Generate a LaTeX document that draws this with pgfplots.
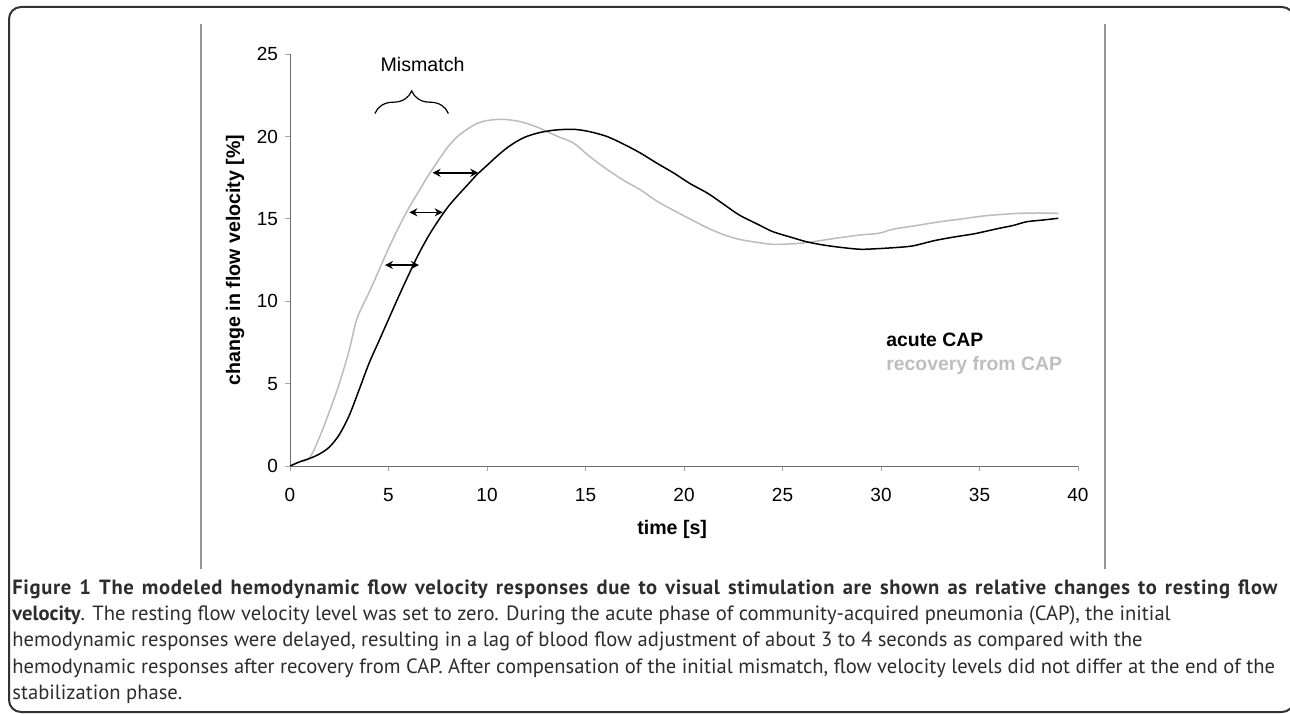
\documentclass[border=0pt]{standalone}
\usepackage{fontspec}
\setmainfont{Liberation Sans}
\newfontfamily\capfont{PT Sans}
\usepackage{pgfplots}
\pgfplotsset{compat=1.18}
\usetikzlibrary{arrows.meta,decorations.pathreplacing}
\definecolor{lightcurve}{RGB}{188,188,188}
\definecolor{legendgray}{RGB}{190,190,190}
\definecolor{axisgray}{RGB}{110,110,110}
\definecolor{framegray}{RGB}{150,150,150}
\definecolor{captext}{RGB}{45,45,45}

\pgfplotstableread{
x y
0 0
0.5 0.25
1.0 0.5
1.5 1.75
2.0 3.3
2.5 5.0
3.0 7.0
3.4 8.95
4.0 10.5
4.5 11.85
5.0 13.2
5.5 14.45
6.0 15.6
6.5 16.6
7.0 17.6
7.5 18.5
8.0 19.35
8.5 20.0
9.0 20.45
9.5 20.8
10.0 20.97
10.75 21.05
11.5 20.95
12.0 20.8
12.7 20.5
13.5 20.05
14.4 19.6
15.2 18.8
16.1 18.0
17.0 17.3
17.8 16.76
18.6 16.1
19.5 15.5
20.3 15.0
21.2 14.45
22.0 14.05
22.8 13.76
23.7 13.58
24.5 13.46
25.4 13.48
26.2 13.56
27.0 13.7
27.9 13.86
29.0 14.03
29.9 14.13
30.6 14.37
31.8 14.6
33.0 14.83
34.1 15.0
35.2 15.18
36.1 15.27
37.0 15.34
38.0 15.36
39.0 15.34
}\recovery

\pgfplotstableread{
x y
0 0
0.5 0.26
1.0 0.46
1.5 0.73
2.0 1.15
2.5 1.9
3.0 3.05
3.5 4.6
4.0 6.2
4.5 7.55
5.0 8.9
5.5 10.25
6.0 11.55
6.5 12.8
7.0 13.9
7.5 14.85
8.0 15.7
8.5 16.4
9.0 17.05
9.5 17.7
10.0 18.25
10.5 18.8
11.0 19.3
11.5 19.7
12.0 20.0
12.7 20.25
13.5 20.4
14.4 20.44
15.2 20.3
16.1 20.0
17.0 19.5
17.8 18.99
18.6 18.4
19.5 17.77
20.3 17.15
21.2 16.56
22.0 15.9
22.8 15.24
23.7 14.7
24.5 14.23
25.4 13.9
26.2 13.62
27.0 13.43
27.9 13.28
28.9 13.16
29.6 13.18
30.6 13.25
31.6 13.36
32.7 13.68
33.7 13.9
34.7 14.09
35.4 14.27
36.0 14.43
36.7 14.6
37.4 14.83
38.2 14.93
39.0 15.04
}\acute

\begin{document}
\begin{tikzpicture}
\useasboundingbox (0,0) rectangle (645pt,356.5pt);
\begin{scope}[x=0.5pt,y=-0.5pt,shift={(0,356.5pt)}]
  \draw[black!80, line width=1pt, rounded corners=6pt] (1294,712) -- (1294,7) -- (9,7) -- (9,712) -- cycle;
  \draw[framegray, line width=0.75pt] (201,24) -- (201,569);
  \draw[framegray, line width=0.75pt] (1105,24) -- (1105,569);
  \begin{scope}[every node/.style={anchor=base west, inner sep=0pt, text=captext, font=\capfont\fontsize{10.3pt}{12pt}\selectfont}]
    \node at (12,594.5) {\makebox[632.5pt][s]{\bfseries\addfontfeature{LetterSpace=3}Figure 1 The modeled hemodynamic flow velocity responses due to visual stimulation are shown as relative changes to resting flow}};
    \node at (12,620.7) {\textbf{velocity}. The resting flow velocity level was set to zero. During the acute phase of community-acquired pneumonia (CAP), the initial};
    \node at (12,646.9) {hemodynamic responses were delayed, resulting in a lag of blood flow adjustment of about 3 to 4 seconds as compared with the};
    \node at (12,673.1) {hemodynamic responses after recovery from CAP. After compensation of the initial mismatch, flow velocity levels did not differ at the end of the};
    \node at (12,699.3) {stabilization phase.};
  \end{scope}
\end{scope}
\begin{axis}[
  at={(145pt,123.5pt)}, anchor=south west,
  scale only axis, width=394pt, height=205.9pt,
  xmin=0, xmax=40, ymin=0, ymax=25,
  axis lines*=left,
  axis line style={axisgray, line width=0.5pt, -},
  xtick={0,5,...,40}, ytick={0,5,...,25},
  tick align=outside, major tick length=2.5pt,
  tick style={black!35, line width=0.5pt},
  /pgf/number format/assume math mode=true,
  ticklabel style={font=\fontsize{9.5pt}{11pt}\selectfont},
  xticklabel style={yshift=-5pt},
  xlabel={time [s]}, ylabel={change in flow velocity [\%]},
  label style={font=\bfseries\fontsize{9.8pt}{11pt}\selectfont},
  xlabel style={at={(axis description cs:0.485,-0.153)}, anchor=center},
  ylabel style={at={(axis description cs:-0.0698,0.5)}, anchor=center},
  clip=false,
]
\addplot[lightcurve, line width=0.75pt, smooth, no markers] table[x=x,y=y] {\recovery};
\addplot[black, line width=0.75pt, smooth, no markers] table[x=x,y=y] {\acute};
\draw[{Stealth[length=4pt,width=4pt]}-{Stealth[length=4pt,width=4pt]}, line width=0.75pt] (4.82,12.2) -- (6.55,12.2);
\draw[{Stealth[length=4pt,width=4pt]}-{Stealth[length=4pt,width=4pt]}, line width=0.75pt] (6.06,15.4) -- (7.75,15.4);
\draw[{Stealth[length=4pt,width=4pt]}-{Stealth[length=4pt,width=4pt]}, line width=0.75pt] (7.24,17.8) -- (9.56,17.8);
\draw[decorate, decoration={brace, amplitude=11.3pt}, line width=0.6pt] (4.31,21.4) -- (8.04,21.4);
\node[anchor=center, inner sep=0pt, font=\fontsize{9.8pt}{11pt}\selectfont] at (6.73,24.4) {Mismatch};
\node[anchor=west, inner sep=0pt, font=\bfseries\fontsize{9.7pt}{11pt}\selectfont] at (30.25,7.69) {acute CAP};
\node[anchor=west, inner sep=0pt, text=legendgray, font=\bfseries\fontsize{9.7pt}{11pt}\selectfont] at (30.25,6.13) {recovery from CAP};
\end{axis}
\end{tikzpicture}
\end{document}
